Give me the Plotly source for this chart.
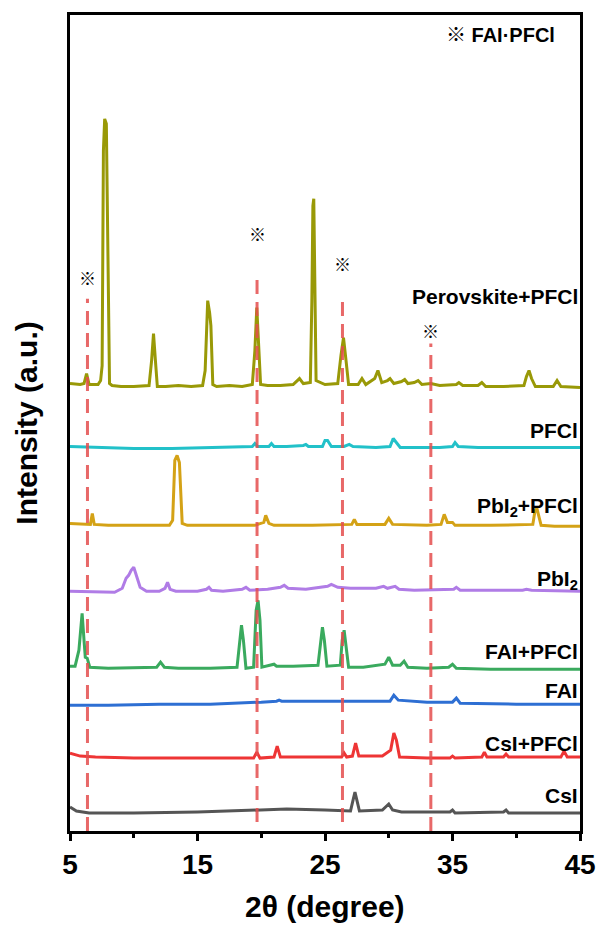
import plotly.graph_objects as go

# ---------------- data (2theta in degrees, intensity in a.u. relative to each pattern's baseline) -------------
x_pero = [5.0,5.8,6.1,6.3,6.5,7.2,7.4,7.52,7.62,7.72,7.85,7.97,8.1,8.3,9.0,10.0,11.2,11.4,11.55,11.7,
          11.85,12.5,13.5,14.5,15.4,15.6,15.8,15.95,16.05,16.2,16.5,17.5,18.5,19.3,19.5,19.65,19.8,19.95,20.5,21.5,
          22.5,23.0,23.3,23.85,23.97,24.05,24.12,24.2,24.3,25.0,26.0,26.25,26.45,26.65,26.85,27.6,27.9,28.2,28.9,29.15,
          29.45,29.9,30.1,30.4,31.0,31.25,31.5,32.0,32.3,32.6,33.3,34.0,35.3,35.5,35.8,37.0,37.3,37.6,39.0,40.6,
          40.8,41.0,41.2,41.5,42.9,43.2,43.5,45.0]
y_pero = [2,1,2,12,1,1,5,20,235,267,262,120,2,0,-1,-1,0,25,52,25,
          -1,-1,0,-1,0,15,85,73,60,1,-1,0,-1,1,35,78,45,1,0,0,
          1,7,2,3,85,180,187,125,5,1,2,30,48,25,1,1,7,1,7,15,
          3,5,7,2,4,6,2,3,5,1,2,0,1,3,0,0,3,-1,-1,0,
          9,15,7,-1,-1,5,-1,-2]

x_pfcl = [5,7,10,13,16,18,19.3,19.5,19.7,20.6,20.8,21.0,22,23.3,23.5,23.7,24.8,25.0,25.2,25.5,26.5,26.9,27.2,29,
          30.1,30.35,30.6,30.9,32,34,35.0,35.2,35.45,37,40,43,45]
y_pfcl = [1,0,-1,-1,0,1,1,4,1,1,4,1,1,2,3,1,1,7,7,1,1,3,1,0,
          1,9,5,0,0,0,1,5,1,0,0,0,0]

x_pbi2_pfcl = [5,6,6.6,6.75,6.9,8,10,12.8,13.05,13.22,13.4,13.58,13.8,14.2,17,19.5,20.2,20.35,20.6,21,24,
               27.1,27.3,27.5,29.7,30.0,30.3,33,34.1,34.35,34.6,35.0,35.2,38,41.3,41.45,41.6,41.75,41.95,43,45]
y_pbi2_pfcl = [2,1,1,12,1,0,0,0,5,65,70,63,2,0,0,0,3,10,2,0,0,
               1,6,1,1,7,1,0,1,11,3,3,0,0,1,13,18,9,0,-1,-1]

x_pbi2 = [5,7,8.5,9.1,9.4,9.6,9.8,10.0,10.2,10.5,11,12,12.45,12.65,12.85,13.3,15,15.7,15.9,16.1,17,18.5,18.8,19.1,
          20.5,21.5,21.8,22.1,23.5,25.2,25.5,26,27,29,29.6,29.9,30.5,30.8,32,35.1,35.3,35.6,38,40.5,40.8,41.2,45]
y_pbi2 = [1,0,0,4,14,17,22,25,17,5,1,1,4,10,3,1,1,3,5,2,1,3,5,2,
          3,5,7,4,3,6,8,5,4,4,6,4,6,3,2,3,5,2,2,2,3,2,1]

x_fai_pfcl = [5,5.4,5.7,5.95,6.1,6.2,6.35,6.55,8,11.8,12.1,12.4,13.5,16,18.1,18.3,18.45,18.6,18.8,19.4,19.6,19.75,
              19.9,20.05,20.8,21.0,21.2,22.5,24.45,24.65,24.8,24.95,25.15,26.2,26.35,26.5,26.65,26.85,28,29.7,30.0,
              30.3,30.9,31.2,31.5,33,34.7,35.0,35.3,38,45]
y_fai_pfcl = [2,2,18,55,28,11,10,1,0,1,6,1,0,0,1,28,43,28,0,1,58,68,
              48,1,3,4,2,2,3,28,41,28,2,3,28,38,23,1,1,4,11,
              3,3,7,1,0,1,4,0,-1,-1]

x_fai = [5,8,12,16,20,21.2,21.4,21.6,25,28,30.1,30.4,30.75,33,35.0,35.3,35.6,40,45]
y_fai = [-2,-2,-1,-1,1,2,3,2,2,2,2,8,3,1,1,5,0,-1,-1]

x_csi_pfcl = [5,5.8,7,10,14,17,19.4,19.65,19.9,21.0,21.25,21.5,24,26.3,26.5,26.7,27.15,27.4,27.65,29.5,30.15,30.4,
              30.6,30.85,33,34.8,35.0,35.2,37.3,37.5,37.7,39.0,39.2,39.4,43.5,43.75,44.0,45]
y_csi_pfcl = [5,2,1,0,0,0,0,6,0,1,12,1,1,1,5,1,2,15,2,2,8,25,
              18,1,0,0,2,0,1,6,1,1,4,1,1,7,1,1]

x_csi = [5,5.5,6.5,10,15,20,22,25,27.0,27.2,27.35,27.5,27.7,29.5,29.8,30.0,30.3,31,34.8,35.0,35.2,39.0,39.2,39.4,43,45]
y_csi = [6,2,0,0,1,3,4,3,2,13,21,13,2,3,7,9,3,1,1,3,0,1,3,0,0,0]

# stacking offsets (a.u.)
names = ["Perovskite+PFCl", "PFCl", "PbI<sub>2</sub>+PFCl", "PbI<sub>2</sub>", "FAI+PFCl", "FAI", "CsI+PFCl", "CsI"]
offsets = [446, 384, 306, 239, 163, 128, 73, 18]
label_levels = [535, 401, 324, 251, 180, 141, 88, 36]

# 2theta positions of the FAI·PFCl reflections and the level of their markers
marked_2theta = [6.37, 19.67, 26.37, 33.3]
marker_levels = [554, 598, 568, 501]
line_bottoms = [0, 9, 9, 0]
line_tops = [533, 558, 537, 488]

x_ticks = [5, 15, 25, 35, 45]
x_minor = [10, 20, 30, 40]

xs = [x_pero, x_pfcl, x_pbi2_pfcl, x_pbi2, x_fai_pfcl, x_fai, x_csi_pfcl, x_csi]
ys = [y_pero, y_pfcl, y_pbi2_pfcl, y_pbi2, y_fai_pfcl, y_fai, y_csi_pfcl, y_csi]
colors = ["#999907", "#22C1C9", "#D4A216", "#B07CE6", "#3AAA5E", "#2E6FD3", "#EE3535", "#555555"]

for a, b in zip(xs, ys):
    assert len(a) == len(b), (len(a), len(b))

FONT = "Liberation Sans, Arial, sans-serif"
MARK_FONT = "Noto Sans CJK SC, DejaVu Sans"

fig = go.Figure()
for x, y, off, c, n in zip(xs, ys, offsets, colors, names):
    fig.add_trace(go.Scatter(x=x, y=[v + off for v in y], mode="lines", name=n,
                             line=dict(color=c, width=3), showlegend=False))

# dashed reference lines
for xv, y0, y1 in zip(marked_2theta, line_bottoms, line_tops):
    fig.add_shape(type="line", xref="x", yref="y", x0=xv, x1=xv, y0=y0, y1=y1,
                  line=dict(color="rgba(228,78,78,0.85)", width=3, dash="14px,8px"), layer="above")

for xv, yv in zip(marked_2theta, marker_levels):
    fig.add_annotation(x=xv, y=yv, text="※", showarrow=False, xref="x", yref="y",
                       font=dict(family=MARK_FONT, size=17, color="black", weight="bold"))

for n, yl in zip(names, label_levels):
    fig.add_annotation(x=45.0, y=yl, text=n, showarrow=False, xanchor="right", yanchor="middle",
                       font=dict(family=FONT, size=21, color="black", weight="bold"))

fig.add_annotation(x=0.955, y=798, xref="paper", yref="y",
                   text="<span style='font-family:Noto Sans CJK SC'>※</span> FAI·PFCl",
                   showarrow=False, xanchor="right", yanchor="middle",
                   font=dict(family=FONT, size=20, color="black", weight="bold"))

# axis titles
fig.add_annotation(x=0.5, y=-0.092, xref="paper", yref="paper", text="2θ (degree)", showarrow=False,
                   xanchor="center", yanchor="middle", font=dict(family=FONT, size=30, color="black", weight="bold"))
fig.add_annotation(x=-0.087, y=0.5, xref="paper", yref="paper", text="Intensity (a.u.)", showarrow=False,
                   textangle=-90, xanchor="center", yanchor="middle",
                   font=dict(family=FONT, size=30, color="black", weight="bold"))

fig.update_layout(
    width=608, height=927,
    margin=dict(l=70, r=20, t=14, b=96),
    paper_bgcolor="white", plot_bgcolor="white",
    xaxis=dict(range=[5, 45], tickmode="array", tickvals=x_ticks, ticktext=[str(t) for t in x_ticks],
               ticks="outside", ticklen=7, tickwidth=2.5, tickcolor="black",
               showline=True, linewidth=2.5, linecolor="black", mirror=True,
               showgrid=False, zeroline=False,
               minor=dict(tickvals=x_minor, ticks="outside", ticklen=4, tickwidth=2.5, tickcolor="black"),
               tickfont=dict(family=FONT, size=28, color="black", weight="bold")),
    yaxis=dict(range=[0, 817], showticklabels=False, ticks="",
               showline=True, linewidth=2.5, linecolor="black", mirror=True,
               showgrid=False, zeroline=False),
)

fig.write_html("out.html")
